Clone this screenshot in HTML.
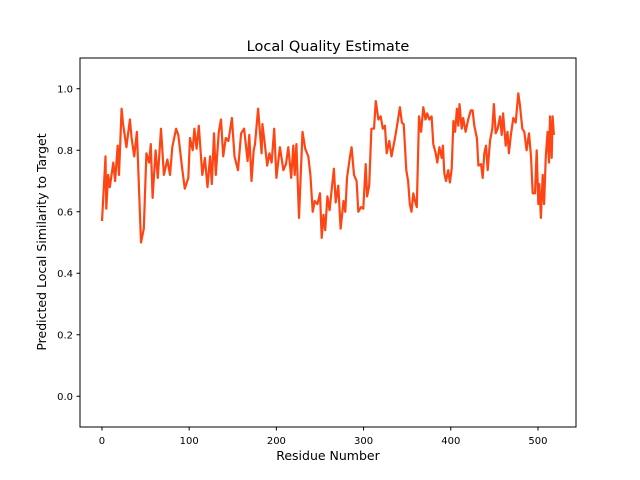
<!DOCTYPE html>
<html><head><meta charset="utf-8"><style>
body{margin:0;background:#fff;}
svg{display:block;font-family:"DejaVu Sans","Liberation Sans",sans-serif;}
</style></head><body>
<svg id="chart" width="640" height="480">
<rect width="640" height="480" fill="#fff"/>
<text x="328" y="51" text-anchor="middle" font-size="14.5">Local Quality Estimate</text>
<text x="328" y="460" text-anchor="middle" font-size="12.5">Residue Number</text>
<text transform="translate(46,242) rotate(-90)" text-anchor="middle" font-size="12.5">Predicted Local Similarity to Target</text>
<g id="ticks"></g>
<polyline id="line" fill="none" stroke="#ff4513" stroke-width="2.2" stroke-linejoin="round"/>
<rect x="80" y="58" width="496" height="369" fill="none" stroke="#000" stroke-width="1"/>
</svg>
<script>
const residues = [0,4,5,7,9,13,15,18,19.5,22.5,24,28,32,34,37,40,44.7,48,51,54,56,58,61.5,64,67.7,71,75,78,80.7,85,87.5,92,95,99,101,104,106,108.5,111,115,118,121,124,126,128.5,130.5,134,136.5,139,142,145,149,152,156,159.5,163,167,169,171.5,174,175.5,179,183,184,187,189.5,192,194.5,197.5,200,204,208,211,213.7,217,219.4,221,223,226,230,233,236.6,239,241.6,244,247,250,252,254,256,258.5,261,263,266,268,271,273.7,277,279,281,284.4,286.3,289,292,294,297,299.7,302.4,304,306.5,309,312,314,317,319.6,322,324.5,326.5,329.5,332,336,338.7,341.7,344,346,349,351,353,355,357,359,361,363.5,366,368.5,371,373,375.4,378,380,382.7,384.5,387,389.6,391,392.6,394.5,397,399,401,403,405,407,408.6,410,412.5,414.3,417,420,423,425,427,430,431.7,434.6,436.6,438.4,440.4,442.3,445,447.6,449.5,451.5,453.8,456.4,458.4,460,463,465,466.7,469,471.7,474.4,477.4,479.4,482,484.3,487,489.7,492,494,496.6,498.5,500.4,501.5,503.4,505.4,507,509,511,512.6,513.8,515.7,516.8,518.3];
const quality = [0.57,0.78,0.61,0.72,0.68,0.76,0.70,0.815,0.72,0.935,0.89,0.81,0.90,0.84,0.78,0.86,0.50,0.545,0.79,0.76,0.82,0.645,0.80,0.71,0.87,0.72,0.77,0.72,0.81,0.87,0.85,0.74,0.675,0.71,0.84,0.80,0.87,0.805,0.88,0.72,0.775,0.68,0.78,0.69,0.855,0.72,0.86,0.90,0.78,0.84,0.83,0.905,0.78,0.735,0.855,0.87,0.765,0.85,0.70,0.80,0.82,0.935,0.79,0.885,0.815,0.75,0.79,0.76,0.87,0.71,0.81,0.735,0.755,0.81,0.71,0.815,0.72,0.82,0.58,0.86,0.805,0.78,0.72,0.60,0.635,0.625,0.66,0.515,0.59,0.54,0.65,0.605,0.66,0.74,0.63,0.685,0.545,0.635,0.60,0.71,0.78,0.81,0.72,0.70,0.60,0.615,0.61,0.755,0.65,0.685,0.87,0.87,0.96,0.90,0.91,0.87,0.88,0.79,0.83,0.78,0.84,0.885,0.94,0.89,0.885,0.735,0.70,0.625,0.60,0.66,0.635,0.615,0.91,0.86,0.94,0.90,0.92,0.90,0.91,0.82,0.79,0.76,0.81,0.775,0.815,0.725,0.70,0.735,0.695,0.74,0.895,0.86,0.935,0.88,0.95,0.87,0.905,0.86,0.90,0.93,0.93,0.88,0.84,0.75,0.755,0.71,0.79,0.815,0.735,0.83,0.87,0.95,0.855,0.87,0.91,0.85,0.92,0.815,0.86,0.79,0.85,0.905,0.89,0.985,0.945,0.87,0.86,0.80,0.855,0.78,0.66,0.66,0.80,0.625,0.69,0.58,0.72,0.625,0.78,0.86,0.76,0.91,0.775,0.91,0.85];
const xTicks = [0,100,200,300,400,500];
const yTicks = [0.0,0.2,0.4,0.6,0.8,1.0];
const xTickLabels = ["0","100","200","300","400","500"];
const yTickLabels = ["0.0","0.2","0.4","0.6","0.8","1.0"];

const X0=80,X1=576,Y0=427,Y1=58;
const xmin=-25.2,xmax=543.6,ymin=-0.1,ymax=1.1;
function sx(v){return X0+(v-xmin)/(xmax-xmin)*(X1-X0);}
function sy(v){return Y0-(v-ymin)/(ymax-ymin)*(Y0-Y1);}
const NS="http://www.w3.org/2000/svg";
const g=document.getElementById('ticks');
xTicks.forEach((t,i)=>{
  const l=document.createElementNS(NS,'line');
  l.setAttribute('x1',sx(t));l.setAttribute('x2',sx(t));l.setAttribute('y1',Y0);l.setAttribute('y2',Y0+3.5);l.setAttribute('stroke','#000');
  
  
  g.appendChild(l);
  const tx=document.createElementNS(NS,'text');
  tx.setAttribute('x',sx(t));tx.setAttribute('y',Y0+17);tx.setAttribute('text-anchor','middle');tx.setAttribute('font-size','10');
  tx.textContent=xTickLabels[i];
  
  
  g.appendChild(tx);
});
yTicks.forEach((t,i)=>{
  const l=document.createElementNS(NS,'line');
  l.setAttribute('x1',X0-3.5);l.setAttribute('x2',X0);l.setAttribute('y1',sy(t));l.setAttribute('y2',sy(t));l.setAttribute('stroke','#000');
  
  
  g.appendChild(l);
  const tx=document.createElementNS(NS,'text');
  tx.setAttribute('x',X0-7);tx.setAttribute('y',sy(t)+3.5);tx.setAttribute('text-anchor','end');tx.setAttribute('font-size','10');
  tx.textContent=yTickLabels[i];
  
  
  g.appendChild(tx);
});
const n=Math.min(residues.length,quality.length);
const pts=[];
for(let i=0;i<n;i++){pts.push(sx(residues[i]).toFixed(1)+','+sy(quality[i]).toFixed(1));}
document.getElementById('line').setAttribute('points',pts.join(' '));
</script>
</body></html>
